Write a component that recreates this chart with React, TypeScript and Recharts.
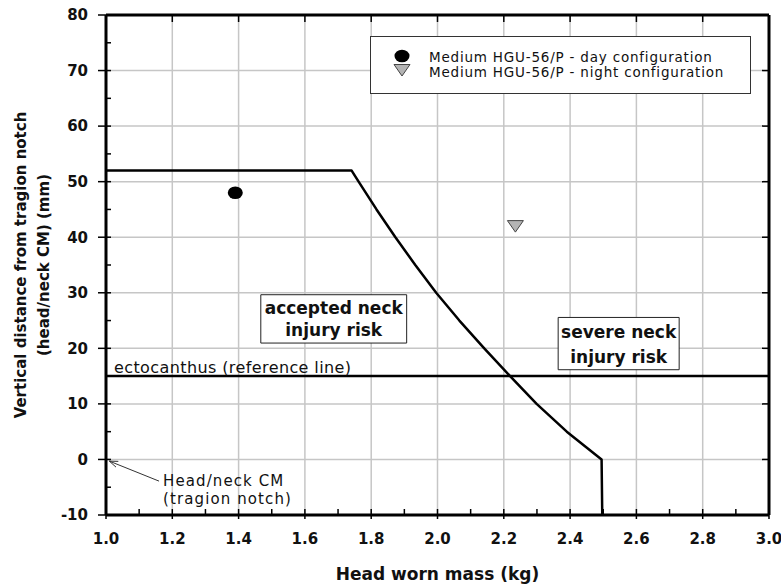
import {
  CartesianGrid,
  ComposedChart,
  Legend,
  Line,
  ReferenceArea,
  ReferenceLine,
  Scatter,
  XAxis,
  YAxis,
} from 'recharts'

const FONT = '"DejaVu Sans", sans-serif'
const INK = '#111'

// injury-risk boundary (head worn mass kg vs. vertical CM offset mm)
const boundaryMass = [1.0, 1.741, 1.762, 1.816, 1.873, 1.933, 1.996, 2.066, 2.141, 2.219, 2.299, 2.39, 2.495, 2.497]
const boundaryDist = [52, 52, 50, 45, 40, 35, 30, 25, 20, 15, 10, 5, 0, -10]

// measured helmet configurations
const dayMass = [1.39]
const dayDist = [48]
const nightMass = [2.235]
const nightDist = [42]

const ectocanthusDist = 15

const massTicks = [1.0, 1.2, 1.4, 1.6, 1.8, 2.0, 2.2, 2.4, 2.6, 2.8, 3.0]
const massMinorTicks = [1.0, 1.1, 1.2, 1.3, 1.4, 1.5, 1.6, 1.7, 1.8, 1.9, 2.0, 2.1, 2.2, 2.3, 2.4, 2.5, 2.6, 2.7, 2.8, 2.9, 3.0]
const distTicks = [-10, 0, 10, 20, 30, 40, 50, 60, 70, 80]
const distMinorTicks = [-10, -5, 0, 5, 10, 15, 20, 25, 30, 35, 40, 45, 50, 55, 60, 65, 70, 75, 80]

const DAY_NAME = 'Medium HGU-56/P - day configuration'
const NIGHT_NAME = 'Medium HGU-56/P - night configuration'

const zip = (xs: number[], ys: number[]) => xs.map((mass, i) => ({ mass, dist: ys[i] }))

const boundaryData = zip(boundaryMass, boundaryDist)
const dayData = zip(dayMass, dayDist)
const nightData = zip(nightMass, nightDist)

const CHART_W = 781
const CHART_H = 585
const MARGIN = { top: 15, right: 12, bottom: 0, left: 0 }
const PLOT_TOP = MARGIN.top
const PLOT_RIGHT = CHART_W - MARGIN.right

const GRID = '#c6c6c6'
const axisLine = { stroke: '#000', strokeWidth: 3 }
const tickLine = { stroke: '#000', strokeWidth: 1.5 }
const labelStyle = { fontSize: 15, fontWeight: 700, fill: INK, fontFamily: FONT }

const X_TICK_SIZE = 4
const X_TICK_MARGIN = 14
const Y_TICK_SIZE = 8
const Y_TICK_MARGIN = 10

// bottom axis: inward minor tick every 0.1 kg; label, outward tick and
// matching tick on the top frame every 0.2 kg
function MassTick({ x, y, payload }: any) {
  const v: number = payload.value
  const axisY = y - X_TICK_SIZE - X_TICK_MARGIN
  const major = Math.round(v * 10) % 2 === 0
  return (
    <g>
      <line x1={x} x2={x} y1={axisY} y2={axisY - 6} {...tickLine} />
      {major && (
        <>
          <line x1={x} x2={x} y1={axisY} y2={axisY + X_TICK_SIZE} {...tickLine} />
          <line x1={x} x2={x} y1={PLOT_TOP} y2={PLOT_TOP + 7} {...tickLine} />
          <text x={x} y={y} dy="0.71em" textAnchor="middle" {...labelStyle}>
            {v.toFixed(1)}
          </text>
        </>
      )}
    </g>
  )
}

// left axis: inward minor tick every 5 mm; label, outward tick and
// matching tick on the right frame every 10 mm
function DistTick({ x, y, payload }: any) {
  const v: number = payload.value
  const axisX = x + Y_TICK_SIZE + Y_TICK_MARGIN
  const major = v % 10 === 0
  return (
    <g>
      <line x1={axisX} x2={axisX + 5} y1={y} y2={y} {...tickLine} />
      {major && (
        <>
          <line x1={axisX - Y_TICK_SIZE} x2={axisX} y1={y} y2={y} {...tickLine} />
          <line x1={PLOT_RIGHT - 7} x2={PLOT_RIGHT} y1={y} y2={y} {...tickLine} />
          <text x={x} y={y} dy="0.355em" textAnchor="end" {...labelStyle}>
            {v}
          </text>
        </>
      )}
    </g>
  )
}

function DayMarker({ cx, cy }: { cx?: number; cy?: number }) {
  if (cx == null || cy == null) return null
  return <ellipse cx={cx} cy={cy} rx={7.5} ry={6.3} fill="#000" />
}

function NightMarker({ cx, cy }: { cx?: number; cy?: number }) {
  if (cx == null || cy == null) return null
  return (
    <path
      d={`M${cx - 8},${cy - 5.5}L${cx + 8},${cy - 5.5}L${cx},${cy + 6}Z`}
      fill="#b4b4b4"
      stroke="#444"
      strokeWidth={1}
    />
  )
}

function renderLegend() {
  const text = { fontSize: 13.5, letterSpacing: 0.8, fill: INK, fontFamily: FONT }
  return (
    <svg width={379} height={55} style={{ display: 'block' }}>
      <DayMarker cx={31} cy={19} />
      <text x={58} y={25} {...text}>{DAY_NAME}</text>
      <NightMarker cx={31} cy={33} />
      <text x={58} y={39.5} {...text}>{NIGHT_NAME}</text>
    </svg>
  )
}

/** Two centred bold lines inside a ReferenceArea box. */
function boxLabel(lines: string[], gap: number, shift: number) {
  return ({ viewBox }: any) => {
    const cx = viewBox.x + viewBox.width / 2
    const cy = viewBox.y + viewBox.height / 2
    return (
      <text textAnchor="middle" fontSize={17} fontWeight={700} fill={INK} fontFamily={FONT}>
        {lines.map((l, i) => (
          <tspan key={l} x={cx} y={cy + shift + (i - (lines.length - 1) / 2) * gap}>
            {l}
          </tspan>
        ))}
      </text>
    )
  }
}

function renderYTitle({ viewBox }: any) {
  const cy = viewBox.y + viewBox.height / 2
  return (
    <g>
      <text x={26} y={cy} textAnchor="middle" transform={`rotate(-90, 26, ${cy})`} {...labelStyle}>
        Vertical distance from tragion notch
      </text>
      <text x={49} y={cy} textAnchor="middle" transform={`rotate(-90, 49, ${cy})`} {...labelStyle}>
        (head/neck CM) (mm)
      </text>
    </g>
  )
}

function renderXTitle({ viewBox }: any) {
  return (
    <text
      x={viewBox.x + viewBox.width / 2}
      y={viewBox.y + 65}
      textAnchor="middle"
      {...labelStyle}
      fontSize={17}
    >
      Head worn mass (kg)
    </text>
  )
}

// thin arrow pointing at the origin, with its caption at the tail
function CmArrow(props: any) {
  const { x1, y1, x2, y2 } = props
  const a = Math.atan2(y2 - y1, x2 - x1)
  const len = 9
  const spread = 0.35
  const p1 = [x2 - len * Math.cos(a - spread), y2 - len * Math.sin(a - spread)]
  const p2 = [x2 - len * Math.cos(a + spread), y2 - len * Math.sin(a + spread)]
  return (
    <g>
      <line x1={x1} y1={y1} x2={x2} y2={y2} stroke="#333" strokeWidth={1} />
      <path d={`M${p1[0]},${p1[1]}L${x2},${y2}L${p2[0]},${p2[1]}`} fill="none" stroke="#333" strokeWidth={1} />
      <text fontSize={15} letterSpacing={1.1} fill={INK} fontFamily={FONT}>
        <tspan x={x1 + 4} y={y1 + 4.5}>Head/neck CM</tspan>
        <tspan x={x1 + 4} y={y1 + 22.5}>(tragion notch)</tspan>
      </text>
    </g>
  )
}

export default function App() {
  return (
    <div style={{ position: 'absolute', left: 0, top: 0, background: '#fff' }}>
      <ComposedChart
        width={CHART_W}
        height={CHART_H}
        data={boundaryData}
        margin={MARGIN}
        style={{ fontFamily: FONT }}
      >
        {/* grid only on the major ticks, underneath everything */}
        <CartesianGrid
          xAxisId="x"
          yAxisId="y"
          stroke={GRID}
          strokeWidth={1.5}
          verticalValues={massTicks}
          horizontalValues={distTicks}
        />

        <XAxis
          xAxisId="x"
          dataKey="mass"
          type="number"
          domain={[1, 3]}
          ticks={massMinorTicks}
          interval={0}
          allowDataOverflow
          height={70}
          tickSize={X_TICK_SIZE}
          tickMargin={X_TICK_MARGIN}
          axisLine={axisLine}
          tickLine={false}
          tick={<MassTick />}
          label={renderXTitle}
        />
        <YAxis
          yAxisId="y"
          dataKey="dist"
          type="number"
          domain={[-10, 80]}
          ticks={distMinorTicks}
          interval={0}
          allowDataOverflow
          width={106}
          tickSize={Y_TICK_SIZE}
          tickMargin={Y_TICK_MARGIN}
          axisLine={axisLine}
          tickLine={false}
          tick={<DistTick />}
          label={renderYTitle}
        />

        {/* top and right frame */}
        <ReferenceLine xAxisId="x" yAxisId="y" x={3} stroke="#000" strokeWidth={3} />
        <ReferenceLine xAxisId="x" yAxisId="y" y={80} stroke="#000" strokeWidth={3} />

        <ReferenceArea
          xAxisId="x"
          yAxisId="y"
          x1={1.467}
          x2={1.907}
          y1={20.95}
          y2={29.65}
          fill="#fff"
          fillOpacity={1}
          stroke="#222"
          strokeWidth={1}
          label={boxLabel(['accepted neck', 'injury risk'], 22, 6)}
        />
        <ReferenceArea
          xAxisId="x"
          yAxisId="y"
          x1={2.364}
          x2={2.729}
          y1={16.15}
          y2={25.56}
          fill="#fff"
          fillOpacity={1}
          stroke="#222"
          strokeWidth={1}
          label={boxLabel(['severe neck', 'injury risk'], 25.5, 7)}
        />

        <ReferenceLine
          xAxisId="x"
          yAxisId="y"
          y={ectocanthusDist}
          stroke="#000"
          strokeWidth={2.5}
          label={({ viewBox }: any) => (
            <text
              x={viewBox.x + 8}
              y={viewBox.y - 3.5}
              fontSize={16}
              letterSpacing={0.4}
              fill={INK}
              fontFamily={FONT}
            >
              ectocanthus (reference line)
            </text>
          )}
        />
        <ReferenceLine
          xAxisId="x"
          yAxisId="y"
          segment={[
            { x: 1.16, y: -3.9 },
            { x: 1.01, y: -0.3 },
          ]}
          shape={CmArrow}
        />

        <Line
          xAxisId="x"
          yAxisId="y"
          dataKey="dist"
          type="linear"
          stroke="#000"
          strokeWidth={2.5}
          strokeLinejoin="round"
          dot={false}
          activeDot={false}
          legendType="none"
          isAnimationActive={false}
        />
        <Scatter
          xAxisId="x"
          yAxisId="y"
          name={DAY_NAME}
          data={dayData}
          dataKey="dist"
          fill="#000"
          shape={DayMarker}
          isAnimationActive={false}
        />
        <Scatter
          xAxisId="x"
          yAxisId="y"
          name={NIGHT_NAME}
          data={nightData}
          dataKey="dist"
          fill="#b4b4b4"
          shape={NightMarker}
          isAnimationActive={false}
        />

        <Legend
          layout="vertical"
          align="center"
          verticalAlign="middle"
          content={renderLegend}
          wrapperStyle={{
            left: 370,
            top: 36,
            width: 381,
            height: 58,
            border: '1px solid #333',
            background: '#fff',
            boxSizing: 'border-box',
          }}
        />
      </ComposedChart>
    </div>
  )
}
